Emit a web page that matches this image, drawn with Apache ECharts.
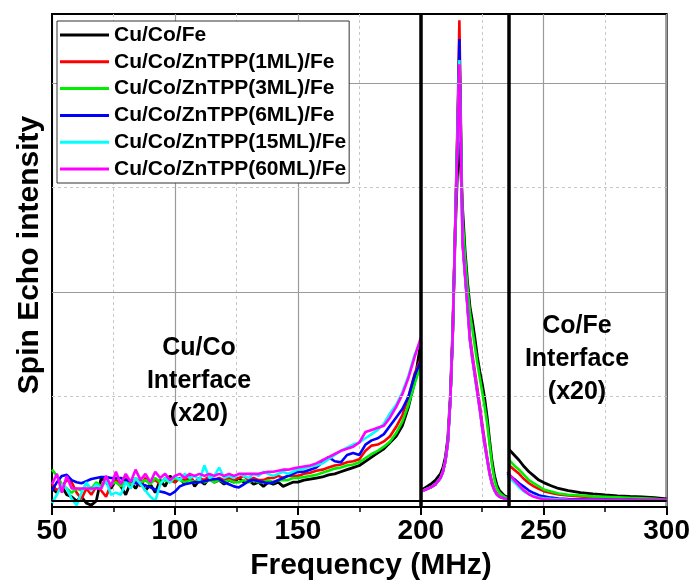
<!DOCTYPE html>
<html><head><meta charset="utf-8">
<script src="https://cdn.jsdelivr.net/npm/echarts@6/dist/echarts.min.js"></script>
<style>html,body{margin:0;padding:0;background:#fff}#c{width:693px;height:582px}</style>
</head><body><div id="c"></div>
<script>
const seriesNames = ['Cu/Co/Fe','Cu/Co/ZnTPP(1ML)/Fe','Cu/Co/ZnTPP(3ML)/Fe','Cu/Co/ZnTPP(6ML)/Fe','Cu/Co/ZnTPP(15ML)/Fe','Cu/Co/ZnTPP(60ML)/Fe'];
const seriesColors = ['#000000','#ff0000','#00ee00','#0000ff','#00ffff','#ff00ff'];
const xTicks = [50,100,150,200,250,300];

// Cu/Co interface region (x20)
const xCuCo = [50,52,54,56,58,60,62,64,66,68,70,72,74,76,78,80,82,84,86,88,90,92,94,96,98,100,102,104,106,108,110,112,114,116,118,120,122,124,126,128,130,132,134,136,138,140,142,144,146,148,150,152.5,155,157.5,160,162.5,165,167.5,170,172.5,175,177.5,180,182.5,185,187.5,190,192.5,195,197.5,200];
const cuCoBlack = [6,4,7,3,2,0,2,-1,-2,0,11,9,6,10,7,3,9,6,10,5,8,4,10,7,12,9,11,8,12,7,10,8,11,9,10,8,10,9,11,9,10,8,9,7,9,8,9,7,8,9,9,
  10,10.5,11,11.5,12.5,13,14,15,16,17,19,21,23,25,28,31,36,45,57,76];
const cuCoRed = [8,5,7,10,9,4,1,6,3,7,5,2,8,10,7,11,8,10,7,11,9,10,8,11,10,9,11,10,12,9,11,10,12,10,11,10,11,10,11,12,10,11,10,10,11,11,12,11,12,12,12,
  13,13.5,14.5,15,16,17,17.5,18.5,19,20,24,26.5,27,28.5,31,35.5,41,50,61,68];
const cuCoGreen = [15,12,8,6,4,6,5,8,6,9,7,10,8,9,7,10,8,11,9,10,8,11,9,10,9,11,10,9,10,9,10,9,10,9,10,9,10,9,9,10,9,10,9,9,10,9,10,10,10,11,11,
  11.5,12,12.5,13.5,14.5,15.5,16,17,17.5,18.5,20.5,22.5,24,26,28.5,32.5,38,46,56,65];
const cuCoBlue = [5,9,12,12.5,10,9,8.5,9.5,10.5,11,11.5,11.5,11,11,11,10,9.5,8.5,8,7.5,6.5,5.5,4.5,4,3,4.5,7,8,8.5,9,9,9.5,10,10.5,10.5,9,8,7,6.5,8,9.5,10,9.5,9,8.5,9,10,11,12,13,14,
  14,15,16,18.5,21,19,18.5,22,23,22,27,29,30,32,36,40,44,50,60,67];
const cuCoCyan = [-1,3,8,6,1,-2,4,9,5,8,6,10,3,4,3,9,6,11,8,5,2,0,8,11,9,12,10,13,11,12,10,17,11,12,16,11,12,11,13,12,11,13,12,14,13,12,13,14,13,14,15,
  15.5,16.5,17,18,20,22,24,25.5,27,28,30,32,34,37,42,46,52,60,70,77];
const cuCoMagenta = [8,13,4,12,6,null,null,null,null,null,6,12,7,14,8,13,9,15,10,13,9,14,11,13,10,12,13,11,13,12,13,12,13,12,13,12,13,12,13,13,13,13,13,13.5,14,14,14.5,15,15,15.5,16,
  16.5,17,18,19.5,21,22.5,24,25,26,28,33,34,35,36,40,45,51,59,69,78];

// main peak region
const xPeak = [200,202,204,206,207,208,209,210,211,212,213,214,215,215.7,217,218,219,220,221,222,223,224,225,226,227,228,229,230,231,232,234,236];
const peakBlack = [5,6.5,8,10,11.5,13,16,21,30,50,82,128,160,172,140,120,105,93,86,78,69,62,56,49,40,29,19,12,7.5,5,2.5,1.5];
const peakRed = [4.5,5.5,6.5,8,9.5,11,14,19,28,48,80,132,185,230,125,109,94,79,70,62,54,46,37,29,21,14,9,5.5,3.5,2.2,1.3,1];
const peakGreen = [4.5,5.5,6.5,8,9.5,11,14,19,28,48,80,131,182,216,135,117,102,90,82,74,66,59,52,45,37,27,17,10,6,4,2,1];
const peakBlue = [4.5,5.5,6.5,8,9.5,11,14,19,28,48,80,131,180,221,124,108,93,77,68,60,52,44,35,27,20,13,8,5,3,2,1.2,0.8];
const peakCyan = [4.5,5.5,6.5,8,9.5,11,14,19,28,48,80,130,177,211,123,108,93,77,68,60,52,44,35,27,20,13,8,5,3,2,1.2,0.8];
const peakMagenta = [4.5,5.5,6.5,8,9.5,11,14,19,28,48,80,130,175,209,123,108,93,77,68,60,52,44,35,27,20,13,8,5,3,2,1.2,0.8];

// Co/Fe interface region (x20)
const xCoFe = [235.2,236,238,240,242,244,246,248,250,253,256,260,265,270,275,280,285,290,295,300];
const coFeBlack = [null,24.5,22,19.5,16.5,14,12,10,8.8,7.3,6,5,4,3.4,2.9,2.5,2.2,2,1.6,1];
const coFeRed = [null,17,15,13,10.5,8.5,7,5.8,4.7,3.8,3.1,2.6,2.2,1.8,1.6,1.4,1.2,1,0.8,0.5];
const coFeGreen = [null,19.5,17,15,12.5,10,8.5,7,5.5,4.5,3.6,3,2.6,2.2,2,1.8,1.5,1.3,1,0.6];
const coFeBlue = [13,12.5,10.5,8.5,6.8,5,3.8,2.8,2.2,1.6,1.2,0.9,0.8,0.7,0.7,0.6,0.6,0.5,0.5,0.4];
const coFeCyan = [12,11.5,9,6.5,4.5,3.2,2.3,1.7,1.3,1,0.8,0.6,0.5,0.5,0.4,0.4,0.3,0.3,0.3,0.3];
const coFeMagenta = [14,13.5,10,7.5,5,3.2,2,1.3,0.8,0.6,0.5,0.5,0.5,0.5,0.5,0.5,0.5,0.5,0.5,0.5];

const dividers = [200, 235.8];
const gridMajorY = [100, 200];
const gridMinorY = [50, 150];

const lowSets = [cuCoBlack, cuCoRed, cuCoGreen, cuCoBlue, cuCoCyan, cuCoMagenta];
const peakSets = [peakBlack, peakRed, peakGreen, peakBlue, peakCyan, peakMagenta];
const tailSets = [coFeBlack, coFeRed, coFeGreen, coFeBlue, coFeCyan, coFeMagenta];

const FONT = 'Liberation Sans, Arial, sans-serif';
const pair = (xs, ys) => xs.map((x, i) => [x, ys[i]]);

const series = [];
series.push({
  type: 'line', data: [], z: 1, silent: true, animation: false,
  markLine: {
    symbol: 'none', silent: true, animation: false, label: {show: false},
    data: [
      ...gridMinorY.map(v => ({yAxis: v, lineStyle: {color: '#c8c8c8', type: [3, 3], width: 1}})),
      ...gridMajorY.map(v => ({yAxis: v, lineStyle: {color: '#9a9a9a', type: 'solid', width: 1.2}})),
      {yAxis: 0, lineStyle: {color: '#000', type: 'solid', width: 2}}
    ]
  }
});
seriesNames.forEach((name, i) => {
  [[xCuCo, lowSets[i]], [xPeak, peakSets[i]], [xCoFe, tailSets[i]]].forEach(([xs, ys]) => {
    series.push({
      name, type: 'line', data: pair(xs, ys), showSymbol: false, symbol: 'none',
      connectNulls: i === 5, z: 2, animation: false,
      lineStyle: {color: seriesColors[i], width: i === 0 ? 2.8 : 2.6},
      itemStyle: {color: seriesColors[i]}
    });
  });
});
series.push({
  type: 'line', data: [], z: 4, silent: true, animation: false,
  markLine: {
    symbol: 'none', silent: true, animation: false, label: {show: false},
    data: dividers.map(v => ({xAxis: v, lineStyle: {color: '#000', type: 'solid', width: 3.5}}))
  }
});

const chart = echarts.init(document.getElementById('c'));
chart.setOption({
  animation: false,
  backgroundColor: '#fff',
  grid: {left: 52, right: 26, top: 14, bottom: 75, show: true, borderColor: '#000', borderWidth: 2, backgroundColor: 'transparent'},
  xAxis: {
    type: 'value', min: xTicks[0], max: xTicks[xTicks.length - 1], interval: 50,
    axisLine: {show: true, onZero: false, lineStyle: {color: '#000', width: 2}},
    axisTick: {show: true, length: 8, lineStyle: {color: '#000', width: 2}},
    minorTick: {show: true, splitNumber: 2, length: 5, lineStyle: {color: '#000', width: 1.5}},
    splitLine: {show: true, lineStyle: {color: '#9a9a9a', width: 1.2}},
    minorSplitLine: {show: true, lineStyle: {color: '#c8c8c8', width: 1, type: [3, 3]}},
    axisLabel: {show: true, color: '#000', fontSize: 28, fontWeight: 'bold', fontFamily: FONT, margin: 10}
  },
  yAxis: {
    type: 'value', min: -2.87, max: 233,
    axisLine: {show: true, onZero: false, lineStyle: {color: '#000', width: 2}},
    axisTick: {show: false}, axisLabel: {show: false}, splitLine: {show: false}
  },
  legend: {
    data: seriesNames, orient: 'vertical', left: 57, top: 21, icon: 'rect',
    itemWidth: 49, itemHeight: 3, itemGap: 5.8, padding: [3.5, 3, 3.5, 3],
    backgroundColor: '#fff', borderColor: '#333', borderWidth: 1, z: 10,
    textStyle: {fontSize: 21, fontWeight: 'bold', fontFamily: FONT, color: '#000', lineHeight: 21}
  },
  graphic: [
    {type: 'text', x: 30, y: 255, rotation: Math.PI / 2, z: 10,
     style: {text: 'Spin Echo intensity', font: 'bold 30px ' + FONT, fill: '#000', textAlign: 'center', textVerticalAlign: 'middle'}},
    {type: 'text', x: 371, y: 566, z: 10,
     style: {text: 'Frequency (MHz)', font: 'bold 30px ' + FONT, fill: '#000', textAlign: 'center', textVerticalAlign: 'middle'}},
    {type: 'text', x: 199, y: 381, z: 10,
     style: {text: 'Cu/Co\nInterface\n(x20)', font: 'bold 25px ' + FONT, fill: '#000', textAlign: 'center', textVerticalAlign: 'middle', lineHeight: 33}},
    {type: 'text', x: 577, y: 359, z: 10,
     style: {text: 'Co/Fe\nInterface\n(x20)', font: 'bold 25px ' + FONT, fill: '#000', textAlign: 'center', textVerticalAlign: 'middle', lineHeight: 33}}
  ],
  series
});
</script>
</body></html>
